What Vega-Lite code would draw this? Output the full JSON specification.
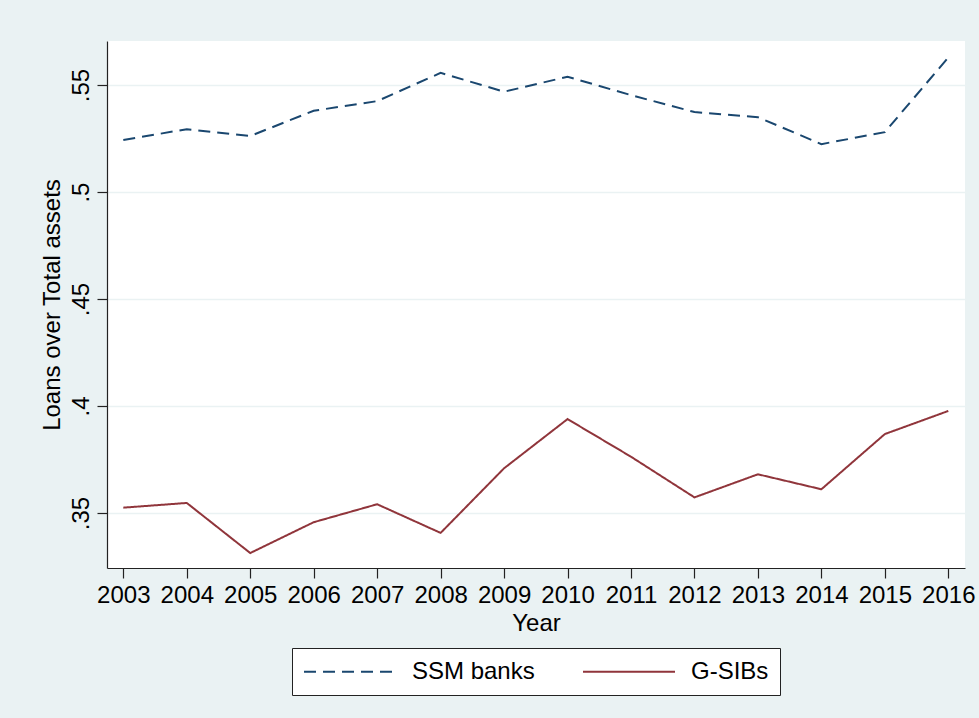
{
  "$schema": "https://vega.github.io/schema/vega-lite/v6.json",
  "width": 858,
  "height": 527,
  "autosize": {"type": "none"},
  "padding": {"left": 107, "top": 41, "right": 14, "bottom": 150},
  "background": "#eaf2f3",
  "config": {
    "font": "Liberation Sans",
    "view": {"fill": "white", "stroke": null},
    "axis": {
      "labelFont": "Liberation Sans",
      "titleFont": "Liberation Sans",
      "labelFontSize": 24,
      "titleFontSize": 24,
      "titleFontWeight": "normal",
      "labelColor": "black",
      "titleColor": "black",
      "domainColor": "#222",
      "domainWidth": 1.2,
      "tickColor": "#222",
      "tickWidth": 1.2,
      "tickSize": 10
    },
    "legend": {
      "labelFont": "Liberation Sans",
      "labelFontSize": 24,
      "labelColor": "black"
    }
  },
  "data": {
    "values": [
      {"year": 2003, "series": "SSM banks", "value": 0.5243},
      {"year": 2004, "series": "SSM banks", "value": 0.5294},
      {"year": 2005, "series": "SSM banks", "value": 0.5262},
      {"year": 2006, "series": "SSM banks", "value": 0.5380},
      {"year": 2007, "series": "SSM banks", "value": 0.5425},
      {"year": 2008, "series": "SSM banks", "value": 0.5557},
      {"year": 2009, "series": "SSM banks", "value": 0.5469},
      {"year": 2010, "series": "SSM banks", "value": 0.5539},
      {"year": 2011, "series": "SSM banks", "value": 0.5453},
      {"year": 2012, "series": "SSM banks", "value": 0.5374},
      {"year": 2013, "series": "SSM banks", "value": 0.5350},
      {"year": 2014, "series": "SSM banks", "value": 0.5224},
      {"year": 2015, "series": "SSM banks", "value": 0.5280},
      {"year": 2016, "series": "SSM banks", "value": 0.5629},
      {"year": 2003, "series": "G-SIBs", "value": 0.3525},
      {"year": 2004, "series": "G-SIBs", "value": 0.3547},
      {"year": 2005, "series": "G-SIBs", "value": 0.3313},
      {"year": 2006, "series": "G-SIBs", "value": 0.3457},
      {"year": 2007, "series": "G-SIBs", "value": 0.3541},
      {"year": 2008, "series": "G-SIBs", "value": 0.3407},
      {"year": 2009, "series": "G-SIBs", "value": 0.3709},
      {"year": 2010, "series": "G-SIBs", "value": 0.3939},
      {"year": 2011, "series": "G-SIBs", "value": 0.3763},
      {"year": 2012, "series": "G-SIBs", "value": 0.3573},
      {"year": 2013, "series": "G-SIBs", "value": 0.3681},
      {"year": 2014, "series": "G-SIBs", "value": 0.3611},
      {"year": 2015, "series": "G-SIBs", "value": 0.3869},
      {"year": 2016, "series": "G-SIBs", "value": 0.3977}
    ]
  },
  "mark": {"type": "line", "strokeWidth": 2},
  "encoding": {
    "x": {
      "field": "year",
      "type": "quantitative",
      "scale": {"domain": [2002.743, 2016.263], "nice": false, "zero": false},
      "axis": {
        "title": "Year",
        "values": [2003, 2004, 2005, 2006, 2007, 2008, 2009, 2010, 2011, 2012, 2013, 2014, 2015, 2016],
        "format": "d",
        "grid": false,
        "labelBaseline": "alphabetic",
        "labelPadding": 24,
        "labelFlush": false,
        "labelOverlap": false,
        "titleBaseline": "alphabetic",
        "titleAnchor": "middle",
        "titleX": 429,
        "titleY": 62
      }
    },
    "y": {
      "field": "value",
      "type": "quantitative",
      "scale": {"domain": [0.3243, 0.5706], "nice": false, "zero": false},
      "axis": {
        "title": "Loans over Total assets",
        "values": [0.35, 0.4, 0.45, 0.5, 0.55],
        "labelExpr": "substring(format(datum.value, '.2~f'), 1)",
        "labelAngle": -90,
        "labelAlign": "center",
        "labelBaseline": "alphabetic",
        "labelPadding": 9,
        "grid": true,
        "gridColor": "#eaf2f3",
        "gridWidth": 1.6,
        "titleAngle": -90,
        "titleAlign": "center",
        "titleBaseline": "alphabetic",
        "titleX": -47.5,
        "titleY": 263.5
      }
    },
    "color": {
      "field": "series",
      "type": "nominal",
      "scale": {"domain": ["SSM banks", "G-SIBs"], "range": ["#1a476f", "#90353b"]},
      "legend": {
        "title": null,
        "orient": "none",
        "direction": "horizontal",
        "legendX": 185,
        "legendY": 607,
        "padding": 11,
        "fillColor": "white",
        "strokeColor": "#222",
        "symbolType": "M-1,0H7",
        "symbolSize": 529,
        "symbolStrokeWidth": 2,
        "labelOffset": 84,
        "columnPadding": 44
      }
    },
    "strokeDash": {
      "field": "series",
      "type": "nominal",
      "scale": {"domain": ["SSM banks", "G-SIBs"], "range": [[12, 7], [1, 0]]},
      "legend": {
        "title": null,
        "orient": "none",
        "direction": "horizontal",
        "legendX": 185,
        "legendY": 607,
        "padding": 11,
        "fillColor": "white",
        "strokeColor": "#222",
        "symbolType": "M-1,0H7",
        "symbolSize": 529,
        "symbolStrokeWidth": 2,
        "labelOffset": 84,
        "columnPadding": 44
      }
    }
  }
}
